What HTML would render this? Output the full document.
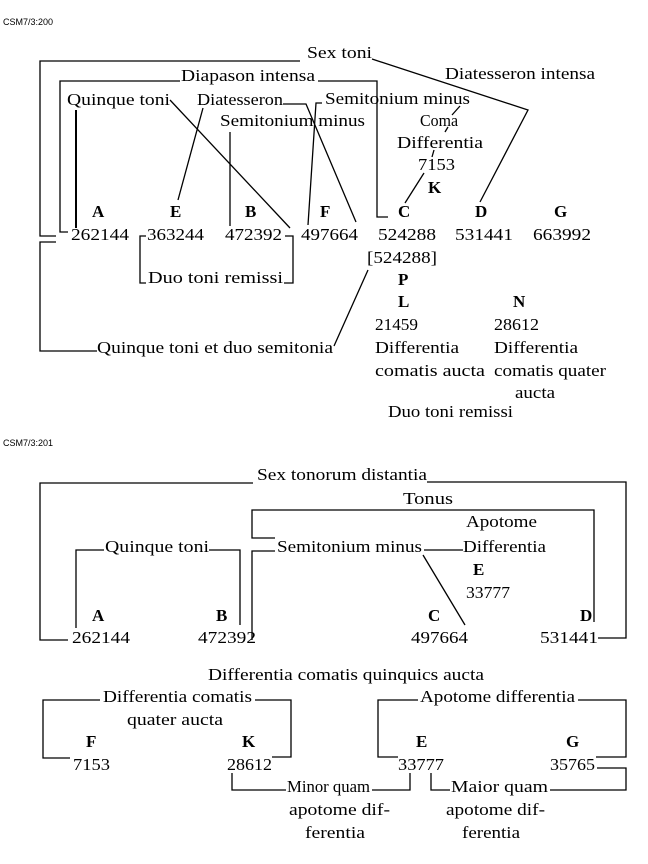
<!DOCTYPE html>
<html><head><meta charset="utf-8"><style>
html,body{margin:0;padding:0;background:#fff}
svg{display:block}
text{font-family:"Liberation Serif",serif;font-size:17px;fill:#000}
.b{font-weight:bold}
.s{font-family:"Liberation Sans",sans-serif;font-size:9px}
line,polyline{stroke:#000;stroke-width:1.3;fill:none}
</style></head><body>
<svg width="648" height="864" viewBox="0 0 648 864" xmlns="http://www.w3.org/2000/svg">
<text class="s" x="3" y="25">CSM7/3:200</text>
<text lengthAdjust="spacingAndGlyphs" x="307" y="58" textLength="65">Sex toni</text>
<text lengthAdjust="spacingAndGlyphs" x="445" y="79" textLength="150">Diatesseron intensa</text>
<text lengthAdjust="spacingAndGlyphs" x="181" y="81" textLength="134">Diapason intensa</text>
<text lengthAdjust="spacingAndGlyphs" x="67" y="105" textLength="103">Quinque toni</text>
<text lengthAdjust="spacingAndGlyphs" x="197" y="105" textLength="86">Diatesseron</text>
<text lengthAdjust="spacingAndGlyphs" x="325" y="104" textLength="145">Semitonium minus</text>
<text lengthAdjust="spacingAndGlyphs" x="220" y="126" textLength="145">Semitonium minus</text>
<text lengthAdjust="spacingAndGlyphs" x="420" y="126" textLength="38">Coma</text>
<text lengthAdjust="spacingAndGlyphs" x="397" y="148" textLength="86">Differentia</text>
<text lengthAdjust="spacingAndGlyphs" x="418" y="170" textLength="37">7153</text>
<text class="b" x="428" y="193">K</text>
<text class="b" x="92" y="217">A</text>
<text class="b" x="170" y="217">E</text>
<text class="b" x="245" y="217">B</text>
<text class="b" x="320" y="217">F</text>
<text class="b" x="398" y="217">C</text>
<text class="b" x="475" y="217">D</text>
<text class="b" x="554" y="217">G</text>
<text lengthAdjust="spacingAndGlyphs" x="71" y="240" textLength="58">262144</text>
<text lengthAdjust="spacingAndGlyphs" x="147" y="240" textLength="57">363244</text>
<text lengthAdjust="spacingAndGlyphs" x="225" y="240" textLength="57">472392</text>
<text lengthAdjust="spacingAndGlyphs" x="301" y="240" textLength="57">497664</text>
<text lengthAdjust="spacingAndGlyphs" x="378" y="240" textLength="58">524288</text>
<text lengthAdjust="spacingAndGlyphs" x="455" y="240" textLength="58">531441</text>
<text lengthAdjust="spacingAndGlyphs" x="533" y="240" textLength="58">663992</text>
<text lengthAdjust="spacingAndGlyphs" x="367" y="263" textLength="70">[524288]</text>
<text lengthAdjust="spacingAndGlyphs" x="148" y="283" textLength="135">Duo toni remissi</text>
<text class="b" x="398" y="285">P</text>
<text class="b" x="398" y="307">L</text>
<text class="b" x="513" y="307">N</text>
<text lengthAdjust="spacingAndGlyphs" x="375" y="330" textLength="43">21459</text>
<text lengthAdjust="spacingAndGlyphs" x="494" y="330" textLength="45">28612</text>
<text lengthAdjust="spacingAndGlyphs" x="375" y="353" textLength="84">Differentia</text>
<text lengthAdjust="spacingAndGlyphs" x="494" y="353" textLength="84">Differentia</text>
<text lengthAdjust="spacingAndGlyphs" x="97" y="353" textLength="236">Quinque toni et duo semitonia</text>
<text lengthAdjust="spacingAndGlyphs" x="375" y="376" textLength="110">comatis aucta</text>
<text lengthAdjust="spacingAndGlyphs" x="494" y="376" textLength="112">comatis quater</text>
<text lengthAdjust="spacingAndGlyphs" x="515" y="398" textLength="40">aucta</text>
<text lengthAdjust="spacingAndGlyphs" x="388" y="417" textLength="125">Duo toni remissi</text>
<polyline points="300,61 40,61 40,236 56,236"/>
<polyline points="56,242 40,242 40,351 97,351"/>
<polyline points="372,59 528,110 480,202"/>
<polyline points="180,81 60,81 60,232 68,232"/>
<polyline points="318,81 377,81 377,217 388,217"/>
<line x1="76" y1="110" x2="76" y2="228" style="stroke-width:2"/>
<polyline points="170,100 290,228"/>
<line x1="203" y1="108" x2="178" y2="200"/>
<polyline points="283,104 306,104 356,222"/>
<polyline points="322,103 316,103 308,225"/>
<line x1="230" y1="132" x2="230" y2="226"/>
<line x1="460" y1="106" x2="452" y2="115"/>
<line x1="448" y1="127" x2="445" y2="132"/>
<line x1="434" y1="150" x2="432" y2="157"/>
<polyline points="424,173 405,203"/>
<polyline points="285,236 293,236 293,283 284,283"/>
<polyline points="146,236 140,236 140,283 146,283"/>
<line x1="368" y1="270" x2="334" y2="346"/>

<text class="s" x="3" y="446">CSM7/3:201</text>
<text lengthAdjust="spacingAndGlyphs" x="257" y="480" textLength="170">Sex tonorum distantia</text>
<text lengthAdjust="spacingAndGlyphs" x="403" y="504" textLength="50">Tonus</text>
<text lengthAdjust="spacingAndGlyphs" x="466" y="527" textLength="71">Apotome</text>
<text lengthAdjust="spacingAndGlyphs" x="105" y="552" textLength="104">Quinque toni</text>
<text lengthAdjust="spacingAndGlyphs" x="277" y="552" textLength="145">Semitonium minus</text>
<text lengthAdjust="spacingAndGlyphs" x="463" y="552" textLength="83">Differentia</text>
<text class="b" x="473" y="575">E</text>
<text lengthAdjust="spacingAndGlyphs" x="466" y="598" textLength="44">33777</text>
<text class="b" x="92" y="621">A</text>
<text class="b" x="216" y="621">B</text>
<text class="b" x="428" y="621">C</text>
<text class="b" x="580" y="621">D</text>
<text lengthAdjust="spacingAndGlyphs" x="72" y="643" textLength="58">262144</text>
<text lengthAdjust="spacingAndGlyphs" x="198" y="643" textLength="58">472392</text>
<text lengthAdjust="spacingAndGlyphs" x="411" y="643" textLength="57">497664</text>
<text lengthAdjust="spacingAndGlyphs" x="540" y="643" textLength="58">531441</text>
<polyline points="253,483 40,483 40,640 68,640"/>
<polyline points="427,482 626,482 626,638 598,638"/>
<polyline points="275,538 252,538 252,510 594,510 594,622"/>
<polyline points="275,551 252,551 252,640"/>
<polyline points="104,550 76,550 76,628"/>
<polyline points="209,550 240,550 240,625"/>
<line x1="424" y1="550" x2="463" y2="550"/>
<line x1="423" y1="555" x2="465" y2="625"/>
<text lengthAdjust="spacingAndGlyphs" x="208" y="680" textLength="276">Differentia comatis quinquics aucta</text>
<text lengthAdjust="spacingAndGlyphs" x="103" y="702" textLength="149">Differentia comatis</text>
<text lengthAdjust="spacingAndGlyphs" x="420" y="702" textLength="155">Apotome differentia</text>
<text lengthAdjust="spacingAndGlyphs" x="127" y="725" textLength="96">quater aucta</text>
<text class="b" x="86" y="747">F</text>
<text class="b" x="242" y="747">K</text>
<text class="b" x="416" y="747">E</text>
<text class="b" x="566" y="747">G</text>
<text lengthAdjust="spacingAndGlyphs" x="73" y="770" textLength="37">7153</text>
<text lengthAdjust="spacingAndGlyphs" x="227" y="770" textLength="45">28612</text>
<text lengthAdjust="spacingAndGlyphs" x="398" y="770" textLength="46">33777</text>
<text lengthAdjust="spacingAndGlyphs" x="550" y="770" textLength="45">35765</text>
<text lengthAdjust="spacingAndGlyphs" x="287" y="792" textLength="83">Minor quam</text>
<text lengthAdjust="spacingAndGlyphs" x="451" y="792" textLength="97">Maior quam</text>
<text lengthAdjust="spacingAndGlyphs" x="289" y="815" textLength="101">apotome dif-</text>
<text lengthAdjust="spacingAndGlyphs" x="446" y="815" textLength="99">apotome dif-</text>
<text lengthAdjust="spacingAndGlyphs" x="305" y="838" textLength="60">ferentia</text>
<text lengthAdjust="spacingAndGlyphs" x="462" y="838" textLength="58">ferentia</text>
<polyline points="100,700 43,700 43,758 70,758"/>
<polyline points="255,700 291,700 291,757 272,757"/>
<polyline points="418,700 378,700 378,757 398,757"/>
<polyline points="578,700 626,700 626,757 596,757"/>
<polyline points="232,773 232,790 286,790"/>
<polyline points="372,790 410,790 410,773"/>
<polyline points="431,773 431,790 450,790"/>
<polyline points="550,790 626,790 626,768 597,768"/>
</svg>
</body></html>
